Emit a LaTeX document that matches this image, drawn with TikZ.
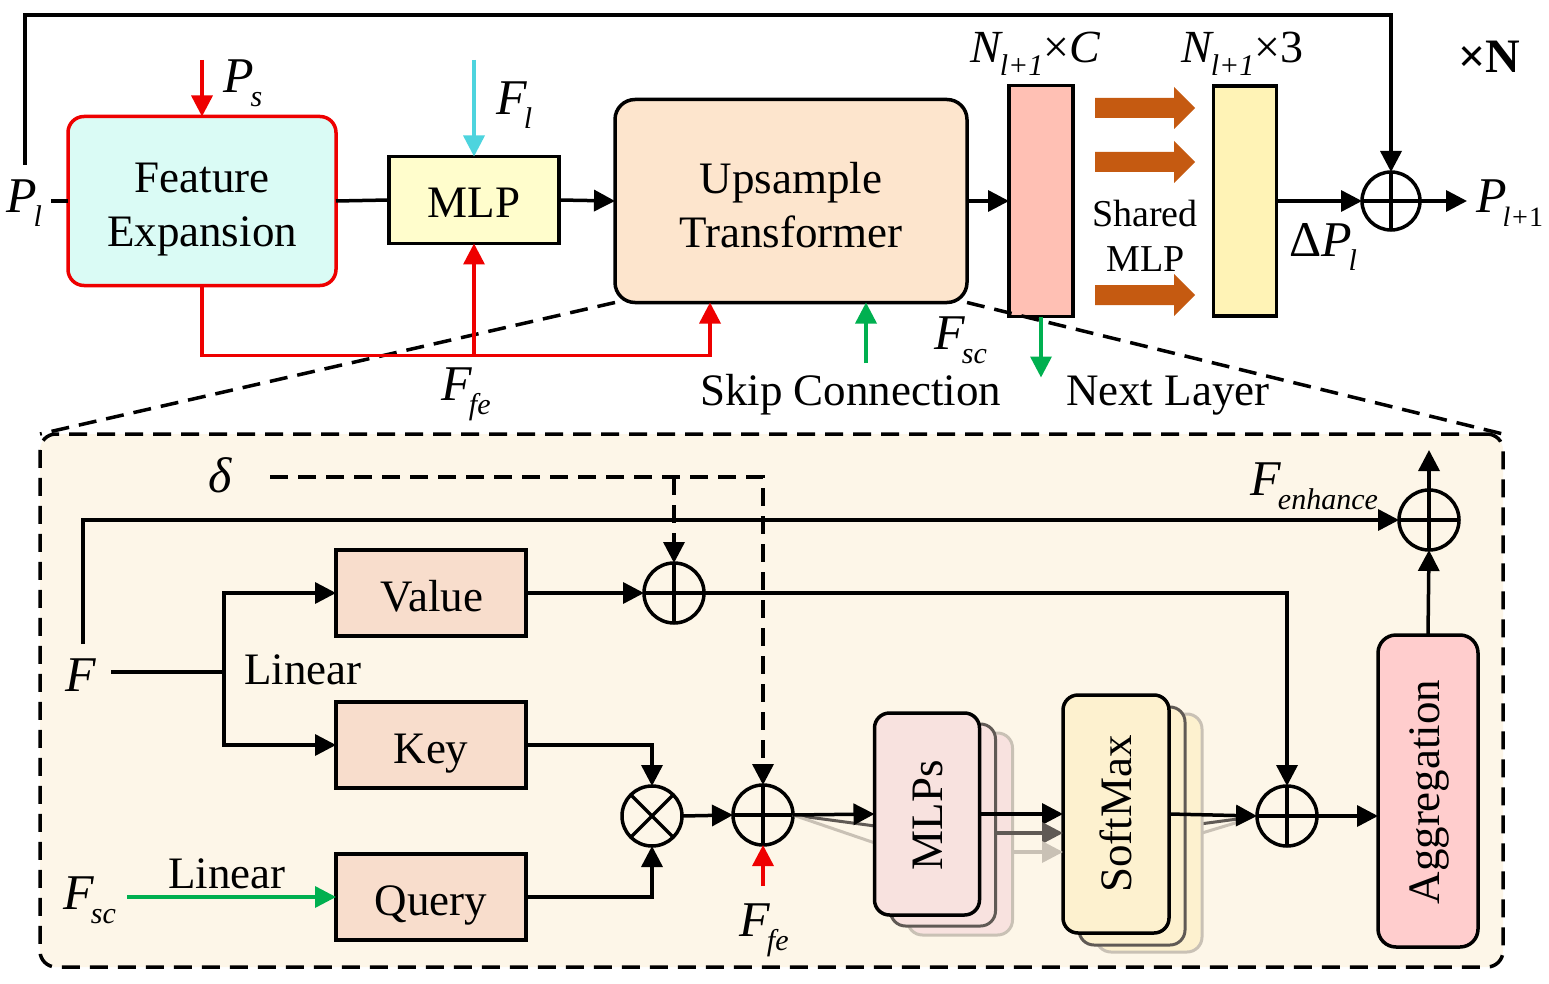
\documentclass[tikz,border=0pt]{standalone}
\usepackage{fontspec}
\setmainfont{Liberation Serif}
\usetikzlibrary{arrows.meta,calc}
\definecolor{redc}{HTML}{EE0000}
\definecolor{cyanc}{HTML}{4DD4DE}
\definecolor{greenc}{HTML}{00B050}
\definecolor{orangec}{HTML}{C55A11}
\definecolor{fefill}{HTML}{DAFBF5}
\definecolor{mlpfill}{HTML}{FFFDCC}
\definecolor{utfill}{HTML}{FDE5CD}
\definecolor{pinkfill}{HTML}{FFC0B4}
\definecolor{yelfill}{HTML}{FFF3B6}
\definecolor{panelfill}{HTML}{FDF6E8}
\definecolor{vkqfill}{HTML}{F8DDCC}
\definecolor{mlpsfill}{HTML}{F8E2DF}
\definecolor{softfill}{HTML}{FDF1CF}
\definecolor{aggfill}{HTML}{FFCDCD}
\definecolor{dgrey}{HTML}{605A55}
\definecolor{lgrey}{HTML}{C9C1B5}
\newcommand{\lbl}[2]{\textit{#1}\kern-3pt\raisebox{-0.28em}{\fontsize{30}{30}\selectfont\textit{#2}}}
\begin{document}
\begin{tikzpicture}[x=1pt,y=-1pt,
  every node/.style={inner sep=0pt, outer sep=0pt},
  lw/.style={line width=3.5pt},
  arr/.style={lw, -{Triangle[length=21pt,width=21pt]}},
  box/.style={draw, line width=3.5pt},
  btxt/.style={align=center, font=\fontsize{45}{54}\selectfont},
  stxt/.style={anchor=base, font=\fontsize{45}{54}\selectfont},
  oplus/.style={circle, draw, line width=3.5pt, minimum size=60pt, path picture={\draw[line width=3.5pt] (path picture bounding box.north) -- (path picture bounding box.south) (path picture bounding box.west) -- (path picture bounding box.east);}},
  otimes/.style={circle, draw, line width=3.5pt, minimum size=60pt, path picture={\draw[line width=3.5pt] (path picture bounding box.north west) -- (path picture bounding box.south east) (path picture bounding box.south west) -- (path picture bounding box.north east);}},
  lab/.style={anchor=base west, font=\fontsize{50}{50}\selectfont},
  txt/.style={anchor=base west, font=\fontsize{45}{50}\selectfont},
  rtxt/.style={rotate=90, font=\fontsize{45}{50}\selectfont},
  dashline/.style={line width=3.5pt, dash pattern=on 18pt off 10pt},
]
\fill[white] (0,0) rectangle (1549,984);
\useasboundingbox (0,0) rectangle (1549,984);

% ---------- lower panel ----------
\node[draw, fill=panelfill, dashline, rounded corners=16pt, minimum width=1463pt, minimum height=533pt] (panel) at (771.5,700.5) {};

% ---------- top nodes ----------
\node[box, draw=redc, fill=fefill, rounded corners=16pt, minimum width=268pt, minimum height=169pt] (fe) at (202,201) {};
\node[btxt] (fetxt) at (202,210) {Feature\\Expansion};
\node[box, fill=mlpfill, minimum width=170pt, minimum height=87pt] (mlp) at (474,200) {};
\node[stxt] (mlptxt) at (474,218) {MLP};
\node[box, fill=utfill, rounded corners=20pt, minimum width=352pt, minimum height=203pt] (ut) at (791,201) {};
\node[btxt] (uttxt) at (791,205) {Upsample\\Transformer};
\node[box, fill=pinkfill, minimum width=64pt, minimum height=231pt] (pink) at (1041,201) {};
\node[box, fill=yelfill, minimum width=63pt, minimum height=230pt] (yel) at (1245,201) {};
\node[oplus, minimum size=58pt] (topplus) at (1391,201) {};

% dashed zoom lines
\draw[dashline] (ut.south west) -- (panel.north west);
\draw[dashline] (ut.south east) -- (panel.north east);

% top labels
\node[lab] (Pl) at (6,213) {\lbl{P}{l}};
\node[lab] (Ps) at (223,93) {\lbl{P}{s}};
\node[lab] (Fl) at (496,115) {\lbl{F}{l}};
\node[lab] (Ffe) at (441,400) {\lbl{F}{fe}};
\node[lab] (Fsc) at (934,349) {\lbl{F}{sc}};
\node[lab] (Pl1) at (1476,213) {\textit{P}\kern-4pt\raisebox{-0.28em}{\fontsize{28}{28}\selectfont\textit{l+}1}};
\node[lab] (dPl) at (1289,257) {Δ\lbl{P}{l}};
\node[anchor=base west, font=\fontsize{46}{46}\selectfont] (NC) at (970,63) {\textit{N}\kern-3pt\raisebox{-0.28em}{\fontsize{30}{30}\selectfont\textit{l+1}}×\textit{C}};
\node[anchor=base west, font=\fontsize{46}{46}\selectfont] (N3) at (1181,63) {\textit{N}\kern-3pt\raisebox{-0.28em}{\fontsize{30}{30}\selectfont\textit{l+1}}×3};
\node[anchor=base west, font=\fontsize{48}{48}\selectfont\bfseries] (xN) at (1458,73) {×N};
\node[txt] (skip) at (700,405) {Skip Connection};
\node[txt] (next) at (1066,405) {Next Layer};
\node[anchor=base, font=\fontsize{38}{40}\selectfont] (shared) at (1145,227) {Shared};
\node[anchor=base, font=\fontsize{38}{40}\selectfont] (smlp) at (1146,272) {MLP};

% top coordinates
\coordinate (fbstart) at (25,165);
\coordinate (plend) at (51,201);
\coordinate (psstart) at (202,60);
\coordinate (flstart) at (474,60);
\coordinate (redjoin) at (474,356);
\coordinate (skipstart) at (866,363);
\coordinate (outend) at (1467,201);

% top connectors
\draw[arr] (fbstart) -- ++(0,-150) -| (topplus.north);
\draw[lw] (plend) -- (fe.west);
\draw[arr, redc] (psstart) -- (fe.north);
\draw[lw] (fe.east) -- (mlp.west);
\draw[arr, cyanc] (flstart) -- (mlp.north);
\draw[arr] (mlp.east) -- (ut.west);
\draw[arr, redc] (fe.south) -- ++(0,70) -| ([xshift=-81pt]ut.south);
\draw[arr, redc] (redjoin) -- (mlp.south);
\draw[arr, greenc] (skipstart) -- ([xshift=75pt]ut.south);
\draw[arr] (ut.east) -- (pink.west);
\draw[arr, greenc] (pink.south) -- ++(0,61);
\draw[arr] (yel.east) -- (topplus.west);
\draw[arr] (topplus.east) -- (outend);
\foreach \y in {108,162,295}
  \fill[orangec] (1095,\y-10) -- (1174,\y-10) -- (1174,\y-21) -- (1195,\y) -- (1174,\y+21) -- (1174,\y+10) -- (1095,\y+10) -- cycle;

% ---------- lower nodes ----------
\node[box, fill=vkqfill, minimum width=190pt, minimum height=86pt] (value) at (431,593) {};
\node[stxt] (valuetxt) at (432,611) {Value};
\node[box, fill=vkqfill, minimum width=190pt, minimum height=86pt] (key) at (431,745) {};
\node[stxt] (keytxt) at (431,763) {Key};
\node[box, fill=vkqfill, minimum width=190pt, minimum height=86pt] (query) at (431,897) {};
\node[stxt] (querytxt) at (431,915) {Query};
\node[oplus] (p1) at (674,593) {};
\node[otimes] (tm) at (652,816) {};
\node[oplus] (p2) at (763,815) {};
\node[oplus] (p4) at (1287,816) {};
\node[oplus] (p5) at (1429,520) {};

% grey fan lines (behind stacks)
\draw[line width=3pt, dgrey] (p2.east) -- (875,826);
\draw[line width=3pt, lgrey] (p2.east) -- (875,843);

\node[draw=lgrey, fill=mlpsfill, line width=3pt, rounded corners=15pt, minimum width=105pt, minimum height=202pt] (mlps2) at (960,834) {};
\node[draw=dgrey, fill=mlpsfill, line width=3pt, rounded corners=15pt, minimum width=105pt, minimum height=202pt] (mlps1) at (943,825) {};
\node[box, fill=mlpsfill, rounded corners=15pt, minimum width=105pt, minimum height=202pt] (mlps) at (927,814) {};
\node[rtxt] (mlpstxt) at (928,815) {MLPs};

\draw[line width=3pt, dgrey] (1185,826) -- (1245,818);
\draw[line width=3pt, lgrey] (1202,833) -- (1245,820);
\node[draw=lgrey, fill=softfill, line width=3pt, rounded corners=15pt, minimum width=106pt, minimum height=238pt] (soft2) at (1149,833) {};
\node[draw=dgrey, fill=softfill, line width=3pt, rounded corners=15pt, minimum width=106pt, minimum height=238pt] (soft1) at (1132,826) {};
\node[box, fill=softfill, rounded corners=15pt, minimum width=106pt, minimum height=238pt] (soft) at (1116,814) {};
\node[rtxt] (softtxt) at (1116,814) {SoftMax};

\node[box, fill=aggfill, rounded corners=18pt, minimum width=100pt, minimum height=312pt] (agg) at (1428,791) {};
\node[rtxt] (aggtxt) at (1429,792) {Aggregation};

% lower labels
\node[lab] (delta) at (208,492) {\textit{δ}};
\node[lab] (F) at (65,691) {\textit{F}};
\node[lab] (Fsc2) at (63,909) {\lbl{F}{sc}};
\node[lab] (Ffe2) at (739,936) {\lbl{F}{fe}};
\node[lab] (Fenh) at (1250,495) {\lbl{F}{enhance}};
\node[txt] (lin1) at (244,684) {Linear};
\node[txt] (lin2) at (168,888) {Linear};

% lower coordinates
\coordinate (dstart) at (270,477);
\coordinate (dbranch) at (674,477);
\coordinate (fup) at (83,644);
\coordinate (fstart) at (111,672);
\coordinate (fsplit) at (224,672);
\coordinate (fscstart) at (127,897);
\coordinate (ffestart) at (763,886);
\coordinate (aggout) at (1429,450);

% lower connectors
\draw[arr, dashline] (dstart) -| (p2.north);
\draw[arr, dashline] (dbranch) -- (p1.north);
\draw[arr] (fup) |- (p5.west);
\draw[lw] (fstart) -- (fsplit);
\draw[arr] (fsplit) |- (value.west);
\draw[arr] (fsplit) |- (key.west);
\draw[arr, greenc] (fscstart) -- (query.west);
\draw[arr] (value.east) -- (p1.west);
\draw[arr] (p1.east) -| (p4.north);
\draw[arr] (key.east) -| (tm.north);
\draw[arr] (query.east) -| (tm.south);
\draw[arr] (tm.east) -- (p2.west);
\draw[arr, redc] (ffestart) -- (p2.south);
\draw[arr] (p2.east) -- (mlps.west);
\draw[arr] (mlps.east) -- (soft.west);
\draw[arr, dgrey] ($(mlps1.east)+(0,8)$) -- ($(soft.west)+(0,19)$);
\draw[arr, lgrey] ($(mlps2.east)+(0,18)$) -- ($(soft.west)+(0,38)$);
\draw[arr] (soft.east) -- (p4.west);
\draw[arr] (p4.east) -- (p4.east -| agg.west);
\draw[arr] (agg.north) -- (p5.south);
\draw[arr] (p5.north) -- (aggout);
\end{tikzpicture}
\end{document}
